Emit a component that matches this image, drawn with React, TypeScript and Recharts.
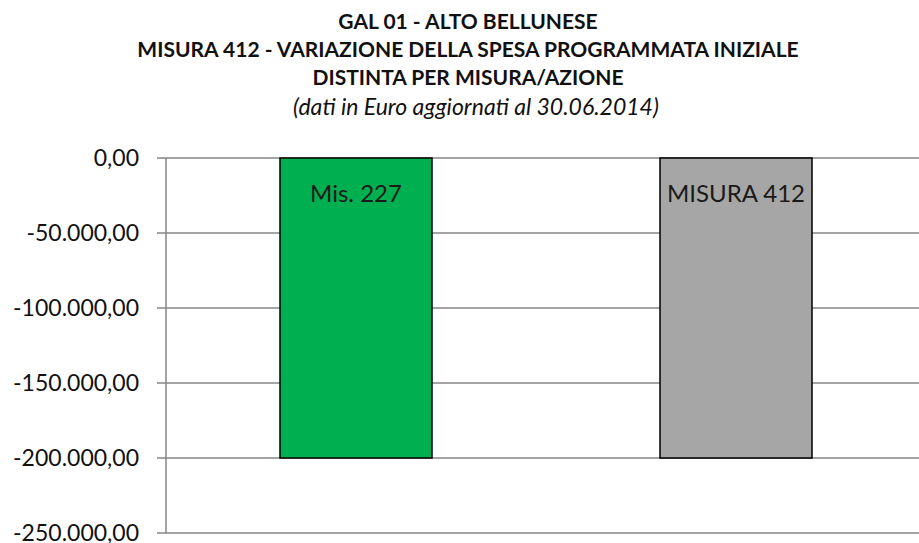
import React from 'react';
import { BarChart, Bar, XAxis, YAxis, CartesianGrid, LabelList, Cell } from 'recharts';

const categories = ['Mis. 227', 'MISURA 412'];
const variazione = [-200000, -200000];
const yTicks = [0, -50000, -100000, -150000, -200000, -250000];
const barColors = ['#00B050', '#A6A6A6'];

const titleLines = [
  'GAL 01 - ALTO BELLUNESE',
  'MISURA 412 - VARIAZIONE DELLA SPESA PROGRAMMATA INIZIALE',
  'DISTINTA PER MISURA/AZIONE',
];
const subtitle = '(dati in Euro aggiornati al 30.06.2014)';

const FONT = 'Lato, "Open Sans", sans-serif';

// Italian number format: -50.000,00
const formatEuro = (v: number) => {
  const neg = v < 0;
  const abs = Math.abs(v);
  const intPart = Math.floor(abs).toString().replace(/\B(?=(\d{3})+(?!\d))/g, '.');
  return (neg ? '-' : '') + intPart + ',00';
};

const BarName = (props: any) => {
  const { x, y, width, height, value } = props;
  const top = Math.min(y, y + height);
  return (
    <text
      x={x + width / 2}
      y={top + 44}
      textAnchor="middle"
      fontSize={24}
      fontFamily={FONT}
      fill="#1a1a1a"
    >
      {value}
    </text>
  );
};

export default function App() {
  const chartData = categories.map((name, i) => ({ name, value: variazione[i] }));

  return (
    <div
      style={{
        position: 'fixed',
        left: 0,
        top: 0,
        width: 919,
        height: 543,
        background: '#fff',
        fontFamily: FONT,
        overflow: 'hidden',
      }}
    >
      <div style={{ position: 'absolute', left: 0, top: 7, width: 936, textAlign: 'center', color: '#111' }}>
        {titleLines.map((line) => (
          <div key={line} style={{ fontWeight: 700, fontSize: 21, lineHeight: '28px' }}>
            {line}
          </div>
        ))}
        <div style={{ fontStyle: 'italic', fontSize: 23, lineHeight: '31px', marginLeft: 16 }}>{subtitle}</div>
      </div>

      <BarChart
        width={919}
        height={543}
        data={chartData}
        margin={{ top: 158, right: -7, bottom: 10, left: 0 }}
        barCategoryGap="30%"
      >
        <CartesianGrid vertical={false} stroke="#868686" strokeWidth={1.5} />
        <XAxis dataKey="name" hide />
        <YAxis
          width={166}
          domain={[-250000, 0]}
          ticks={yTicks}
          interval={0}
          tickFormatter={formatEuro}
          tick={{ fontSize: 23, fill: '#111', fontFamily: FONT }}
          tickSize={9}
          tickMargin={18}
          axisLine={{ stroke: '#868686', strokeWidth: 1.5 }}
          tickLine={{ stroke: '#868686', strokeWidth: 1.5 }}
        />
        <Bar dataKey="value" stroke="#000" strokeWidth={1.5} isAnimationActive={false}>
          {chartData.map((_, i) => (
            <Cell key={`cell-${i}`} fill={barColors[i]} />
          ))}
          <LabelList dataKey="name" content={BarName} />
        </Bar>
      </BarChart>
    </div>
  );
}
